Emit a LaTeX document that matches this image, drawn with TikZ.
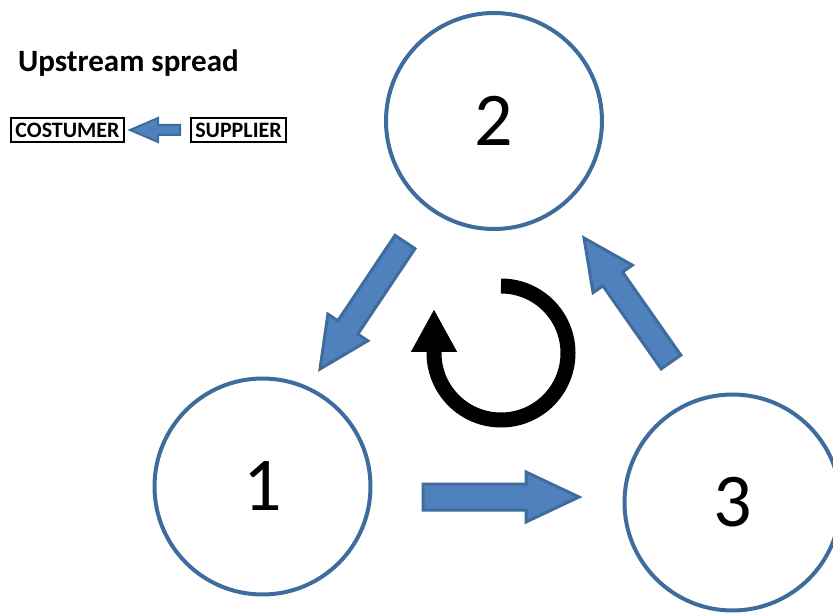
\documentclass[tikz,border=0pt]{standalone}
\usepackage{fontspec}
\setmainfont{Carlito}
\usetikzlibrary{calc,arrows.meta}

\definecolor{ringblue}{HTML}{3E6C9C}
\definecolor{fillblue}{HTML}{4F81BD}

\tikzset{
  stage/.style={circle,draw=ringblue,line width=4pt,inner sep=0pt,
    minimum size=216pt,font=\fontsize{76}{76}\selectfont},
  legendbox/.style={draw,line width=2pt,inner sep=0pt,minimum height=24pt,
    font=\bfseries\fontsize{22}{22}\selectfont},
  blockarrow/.style={draw=ringblue,fill=fillblue,line width=3pt,line join=miter},
}

% #2 from, #3 to, #4 half shaft, #5 half head, #6 head length
\newcommand{\blockarrow}[6][]{%
  \draw[blockarrow,#1] let \p1=(#2), \p2=(#3),
    \n1={atan2(\y2-\y1,\x2-\x1)}, \n2={veclen(\x2-\x1,\y2-\y1)} in
    [shift={(\p1)},rotate=\n1]
    (0,-#4) -- (\n2-#6,-#4) -- (\n2-#6,-#5) -- (\n2,0)
    -- (\n2-#6,#5) -- (\n2-#6,#4) -- (0,#4) -- cycle;
}

\begin{document}
\begin{tikzpicture}[x=1pt,y=1pt]
  \useasboundingbox (0,0) rectangle (833,614);
  \clip (0,0) rectangle (833,614);

  % the three stages
  \node[stage] (s1) at (262.5,127.5) {1};
  \node[stage] (s2) at (494,493) {2};
  \node[stage] (s3) at (732.5,111.5) {3};

  % ends of the block arrows
  \coordinate (a21s) at (405,372);
  \coordinate (a21e) at (320,245);
  \coordinate (a32s) at (671,252);
  \coordinate (a32e) at (584,376);
  \coordinate (a13s) at (423,117);
  \coordinate (a13e) at (579,117);

  \blockarrow{a21s}{a21e}{12}{24}{50}
  \blockarrow{a32s}{a32e}{12}{24}{50}
  \blockarrow{a13s}{a13e}{13}{25}{53}

  % turning arrow in the middle
  \coordinate (turn) at (501,261);
  \draw[line width=15pt,-{Triangle[length=43pt,width=43pt]}]
    ($(turn)+(90:67)$) arc (90:-180:67) -- ++(0,44);

  % legend
  \node[anchor=base west,inner sep=0pt,font=\bfseries\fontsize{31}{31}\selectfont]
    (title) at (18,542) {Upstream spread};
  \node[legendbox,minimum width=113pt] (cust) at (67.5,484) {COSTUMER};
  \node[legendbox,minimum width=95pt] (supp) at (238.5,484) {SUPPLIER};
  \coordinate (legs) at (180,484);
  \coordinate (lege) at (130,484);
  \blockarrow[line width=2pt]{legs}{lege}{5}{12}{28}
\end{tikzpicture}
\end{document}
